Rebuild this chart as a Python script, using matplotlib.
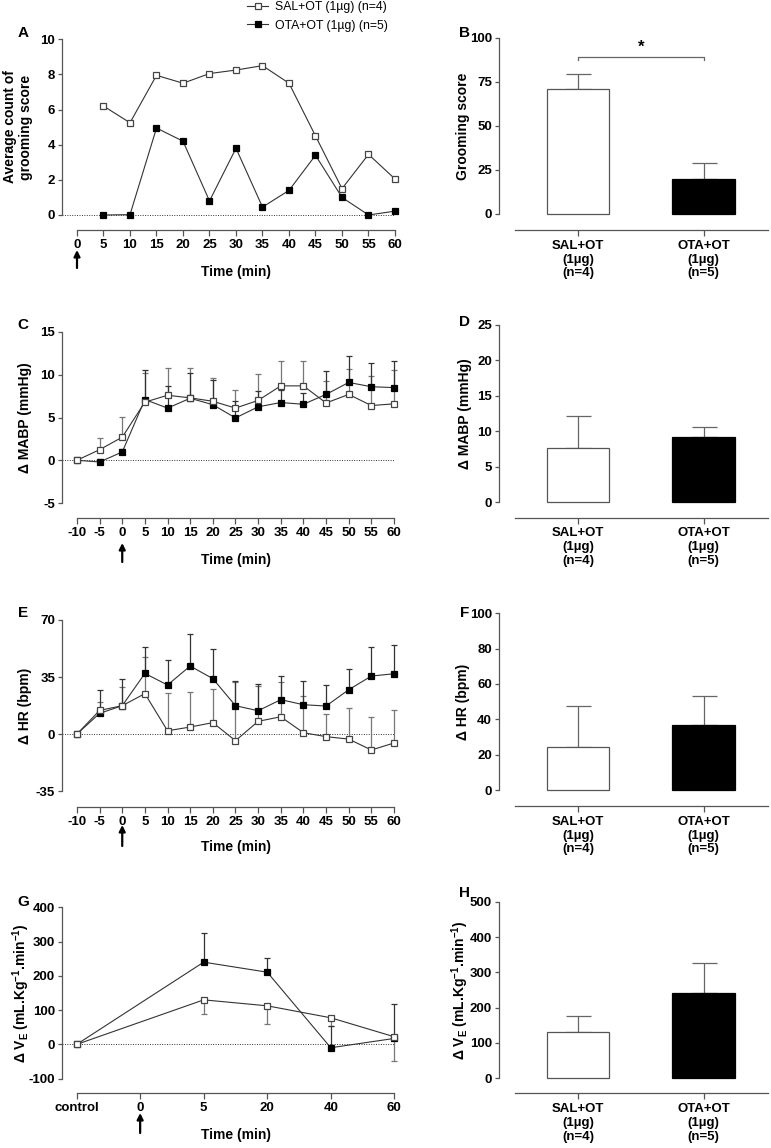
import matplotlib
matplotlib.use('Agg')
import matplotlib.pyplot as plt
import numpy as np
from matplotlib.lines import Line2D

plt.rcParams['font.family'] = ['Liberation Sans', 'DejaVu Sans']
plt.rcParams['font.weight'] = 'bold'
plt.rcParams['mathtext.default'] = 'regular'
plt.rcParams['axes.linewidth'] = 0.9
plt.rcParams['axes.unicode_minus'] = False

# ---------------- data ----------------
legend_labels = ['SAL+OT (1µg) (n=4)', 'OTA+OT (1µg) (n=5)']
bar_categories = ['SAL+OT\n(1µg)\n(n=4)', 'OTA+OT\n(1µg)\n(n=5)']

# A: grooming time course
time_A = [5, 10, 15, 20, 25, 30, 35, 40, 45, 50, 55, 60]
groom_sal = [6.2, 5.25, 7.95, 7.5, 8.05, 8.25, 8.5, 7.5, 4.5, 1.5, 3.45, 2.05]
groom_ota = [0.0, 0.02, 4.95, 4.2, 0.8, 3.8, 0.45, 1.4, 3.4, 1.0, 0.0, 0.22]

# B: grooming score bars
groom_bar = [71, 20]
groom_bar_err = [8.3, 9.0]

# C: MABP time course
time_C = [-10, -5, 0, 5, 10, 15, 20, 25, 30, 35, 40, 45, 50, 55, 60]
mabp_sal = [0, 1.24, 2.7, 6.8, 7.6, 7.3, 6.9, 6.1, 7.0, 8.7, 8.7, 6.7, 7.7, 6.4, 6.6]
mabp_sal_err = [0, 1.36, 2.35, 3.4, 3.2, 3.5, 2.75, 2.1, 3.1, 2.9, 2.9, 2.6, 3.0, 3.5, 4.0]
mabp_ota = [0, -0.2, 0.97, 7.1, 6.1, 7.25, 6.5, 4.95, 6.25, 6.75, 6.55, 7.7, 9.1, 8.6, 8.5]
mabp_ota_err = [0, 0.3, 0.4, 3.4, 2.6, 2.95, 2.9, 1.95, 1.85, 1.45, 1.3, 2.7, 3.1, 2.8, 3.1]

# D: MABP bars
mabp_bar = [7.7, 9.2]
mabp_bar_err = [4.5, 1.45]

# E: HR time course
time_E = [-10, -5, 0, 5, 10, 15, 20, 25, 30, 35, 40, 45, 50, 55, 60]
hr_sal = [0, 14.5, 17.4, 24.8, 2.0, 4.3, 7.0, -4.1, 7.8, 10.6, 0.8, -1.6, -3.1, -9.8, -5.5]
hr_sal_err = [0, 5.1, 11.5, 22.7, 23.2, 21.7, 20.8, 36.1, 21.5, 21.3, 22.7, 14.0, 18.9, 20.4, 20.0]
hr_ota = [0, 12.7, 17.4, 37.2, 30.1, 41.75, 34.0, 17.4, 14.3, 21.1, 18.0, 17.2, 27.2, 35.6, 37.0]
hr_ota_err = [0, 14.5, 16.2, 16.4, 15.5, 19.65, 18.2, 15.3, 16.6, 14.7, 14.7, 13.1, 12.9, 17.8, 17.8]

# F: HR bars
hr_bar = [24.5, 36.8]
hr_bar_err = [22.9, 16.4]

# G: VE time course (categorical time axis)
g_ticklabels = ['control', '0', '5', '20', '40', '60']
g_times = ['control', '5', '20', '40', '60']
ve_sal = [0, 130, 112.6, 77.7, 22.3]
ve_sal_err_low = [0, 42.6, 53.6, 25, 71]
ve_ota = [0, 240, 210.7, -9.7, 17.5]
ve_ota_err_up = [0, 86, 40, 62, 99]

# H: VE bars
ve_bar = [130, 241.5]
ve_bar_err = [45.5, 86]

# ---------------- figure ----------------
W, H = 771, 1148
fig = plt.figure(figsize=(W / 100, H / 100), dpi=100)

AX_COL = '#555555'
LINE_COL = '#333333'


def add_ax(l, t, r, b):
    ax = fig.add_axes([l / W, 1 - b / H, (r - l) / W, (b - t) / H])
    ax._px = (l, t, r, b)
    return ax


def ftext(x, y, s, **kw):
    fig.text(x / W, 1 - y / H, s, **kw)


def style(ax, xlim, ylim, xb, yb, xticks, yticks, xticklabels=None, xpad=2.5):
    ax.set_xlim(*xlim)
    ax.set_ylim(*ylim)
    for s in ['top', 'right']:
        ax.spines[s].set_visible(False)
    ax.spines['left'].set_bounds(*yb)
    ax.spines['bottom'].set_bounds(*xb)
    for s in ['left', 'bottom']:
        ax.spines[s].set_color(AX_COL)
    ax.set_xticks(xticks)
    ax.set_yticks(yticks)
    if xticklabels is not None:
        ax.set_xticklabels(xticklabels)
    ax.tick_params(axis='y', length=3, width=0.9, color=AX_COL, pad=2, labelsize=9.5)
    ax.tick_params(axis='x', length=4, width=0.9, color=AX_COL, pad=xpad, labelsize=9.5)
    ax.patch.set_visible(False)


def arrow(ax, xval, y_tip, y_tail):
    l, t, r, b = ax._px
    f = lambda y: (b - y) / (b - t)
    ax.annotate('', xy=(xval, f(y_tip)), xytext=(xval, f(y_tail)),
                xycoords=ax.get_xaxis_transform(), textcoords=ax.get_xaxis_transform(),
                arrowprops=dict(arrowstyle='-|>', color='black', lw=1.6, mutation_scale=9,
                                shrinkA=0, shrinkB=0),
                annotation_clip=False)


def series(ax, x, sal, ota, sal_err=None, ota_err=None, sal_low=False):
    ax.axhline(0, color='#333333', lw=0.7, ls=(0, (1, 1.5)), zorder=1)
    if sal_err is not None:
        z = np.zeros(len(sal))
        yerr = [sal_err, z] if sal_low else [z, sal_err]
        ax.errorbar(x, sal, yerr=yerr, fmt='none', ecolor='#777777', elinewidth=0.9,
                    capsize=2.5, capthick=0.9, zorder=2, clip_on=False)
    if ota_err is not None:
        z = np.zeros(len(ota))
        ax.errorbar(x, ota, yerr=[z, ota_err], fmt='none', ecolor='#333333', elinewidth=0.9,
                    capsize=2.5, capthick=0.9, zorder=2, clip_on=False)
    ax.plot(x, ota, color=LINE_COL, lw=0.8, marker='s', ms=5, mfc='black', mec='black',
            mew=0.9, zorder=4, clip_on=False)
    ax.plot(x, sal, color=LINE_COL, lw=0.8, marker='s', ms=5, mfc='white', mec='#444444',
            mew=0.9, zorder=5, clip_on=False)


def bars(ax, vals, errs):
    ax.bar([0, 1], vals, width=0.5, color=['white', 'black'], edgecolor=['#555555', 'black'],
           linewidth=0.9, zorder=2)
    ax.errorbar([0, 1], vals, yerr=[[0, 0], errs], fmt='none', ecolor='#666666',
                elinewidth=0.9, capsize=9, capthick=0.9, zorder=1)


LBL = dict(fontsize=10, fontweight='bold', rotation=90, ha='center', va='center')
TL = dict(fontsize=10, fontweight='bold', ha='center', va='center')
PL = dict(fontsize=11, fontweight='bold', ha='center', va='center')

# ---- A ----
axA = add_ax(62, 39.3, 395, 230)
style(axA, (-2.83, 60), (-0.854, 10), (0, 60), (0, 10), list(range(0, 61, 5)), list(range(0, 11, 2)))
series(axA, time_A, groom_sal, groom_ota)
arrow(axA, 0, 250, 268)
ftext(236, 272, 'Time (min)', **TL)
ftext(18, 127, 'Average count of\ngrooming score', linespacing=1.15, **LBL)
ftext(23, 33, 'A', **PL)

handles = [Line2D([], [], color=LINE_COL, lw=0.8, marker='s', ms=5, mfc='white', mec='#444444', mew=0.9),
           Line2D([], [], color=LINE_COL, lw=0.8, marker='s', ms=5, mfc='black', mec='black', mew=0.9)]
fig.legend(handles, legend_labels, loc='upper left', bbox_to_anchor=(247 / W, 1 - 1.0 / H),
           frameon=False, prop=dict(size=8.8, weight='normal'), handlelength=1.75,
           handletextpad=0.55, labelspacing=0.55, borderpad=0, borderaxespad=0, numpoints=1)

# ---- B ----
axB = add_ax(499, 38, 768, 230)
style(axB, (-0.63, 1.514), (-9.1, 100), (-0.5, 1.514), (0, 100), [0, 1], [0, 25, 50, 75, 100],
      bar_categories, xpad=3)
bars(axB, groom_bar, groom_bar_err)
axB.plot([0, 0, 1, 1], [87.5, 89.2, 89.2, 87.5], color='#666666', lw=0.9)
axB.text(0.5, 90.5, '*', ha='center', va='bottom', fontsize=12, fontweight='bold')
for t in axB.get_xticklabels():
    t.set_linespacing(1.2)
ftext(463, 126, 'Grooming score', **LBL)
ftext(465, 33, 'B', **PL)

# ---- C ----
axC = add_ax(62, 332, 394, 518)
style(axC, (-13.3, 60), (-6.75, 15), (-10, 60), (-5, 15), list(range(-10, 61, 5)), [-5, 0, 5, 10, 15])
series(axC, time_C, mabp_sal, mabp_ota, mabp_sal_err, mabp_ota_err)
arrow(axC, 0, 543, 562)
ftext(236, 560, 'Time (min)', **TL)
ftext(25, 417.5, 'Δ MABP (mmHg)', **LBL)
ftext(23, 325, 'C', **PL)

# ---- D ----
axD = add_ax(499, 325, 768, 517.7)
style(axD, (-0.63, 1.514), (-2.17, 25), (-0.5, 1.514), (0, 25), [0, 1], [0, 5, 10, 15, 20, 25],
      bar_categories, xpad=3)
bars(axD, mabp_bar, mabp_bar_err)
for t in axD.get_xticklabels():
    t.set_linespacing(1.2)
ftext(465, 413.7, 'Δ MABP (mmHg)', **LBL)
ftext(465, 322, 'D', **PL)

# ---- E ----
axE = add_ax(62, 620, 394, 806.7)
style(axE, (-13.3, 60), (-44.6, 70), (-10, 60), (-35, 70), list(range(-10, 61, 5)), [-35, 0, 35, 70])
series(axE, time_E, hr_sal, hr_ota, hr_sal_err, hr_ota_err)
arrow(axE, 0, 825, 846)
ftext(236, 847, 'Time (min)', **TL)
ftext(25, 705.5, 'Δ HR (bpm)', **LBL)
ftext(23, 613, 'E', **PL)

# ---- F ----
axF = add_ax(499, 613.3, 768, 806)
style(axF, (-0.63, 1.514), (-9.05, 100), (-0.5, 1.514), (0, 100), [0, 1], [0, 20, 40, 60, 80, 100],
      bar_categories, xpad=3)
bars(axF, hr_bar, hr_bar_err)
for t in axF.get_xticklabels():
    t.set_linespacing(1.2)
ftext(463, 701.6, 'Δ HR (bpm)', **LBL)
ftext(465, 613, 'F', **PL)

# ---- G ----
axG = add_ax(62, 907.3, 394.3, 1093.3)
g_pos = [g_ticklabels.index(t) for t in g_times]
style(axG, (-0.23, 5), (-142.6, 400), (0, 5), (-100, 400), list(range(len(g_ticklabels))),
      [-100, 0, 100, 200, 300, 400], g_ticklabels)
series(axG, g_pos, ve_sal, ve_ota, ve_sal_err_low, ve_ota_err_up, sal_low=True)
arrow(axG, g_ticklabels.index('0'), 1113, 1133)
ftext(236, 1135.5, 'Time (min)', **TL)
ftext(21, 993, 'Δ V$_{E}$ (mL.Kg$^{-1}$.min$^{-1}$)', **LBL)
ftext(23, 901.7, 'G', **PL)

# ---- H ----
axH = add_ax(499, 901.7, 768, 1093.3)
style(axH, (-0.63, 1.514), (-42.5, 500), (-0.5, 1.514), (0, 500), [0, 1], [0, 100, 200, 300, 400, 500],
      bar_categories, xpad=3)
bars(axH, ve_bar, ve_bar_err)
for t in axH.get_xticklabels():
    t.set_linespacing(1.2)
ftext(460, 990, 'Δ V$_{E}$ (mL.Kg$^{-1}$.min$^{-1}$)', **LBL)
ftext(465, 893, 'H', **PL)

fig.savefig('out.png', dpi=100)
